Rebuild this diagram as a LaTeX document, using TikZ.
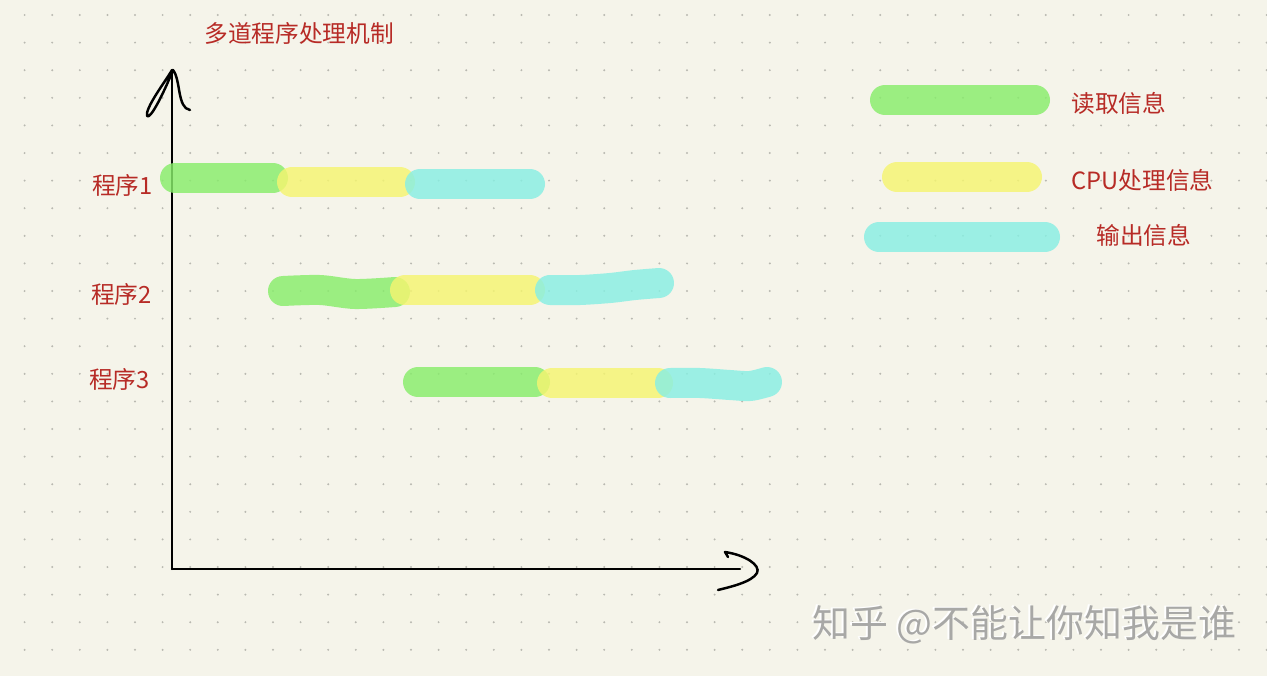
\documentclass[tikz,border=0pt]{standalone}
\usepackage{fontspec}
\newfontfamily\cjk{Noto Sans CJK SC}
\usepackage{xcolor}
\usetikzlibrary{calc}
\usetikzlibrary{positioning}

\definecolor{bgc}{RGB}{245,244,234}
\definecolor{dotc}{RGB}{185,185,177}
\definecolor{txtc}{RGB}{183,43,38}
\definecolor{rdc}{RGB}{136,237,107}
\definecolor{cuc}{RGB}{245,245,112}
\definecolor{opc}{RGB}{136,239,227}
\definecolor{wmc}{RGB}{168,168,166}

\begin{document}
\begin{tikzpicture}[
	x=0.02cm, y=-0.02cm,
	rd/.style = {line width=0.6cm, line cap=round, draw=rdc, opacity=0.82},
	cu/.style = {line width=0.6cm, line cap=round, draw=cuc, opacity=0.82},
	op/.style = {line width=0.6cm, line cap=round, draw=opc, opacity=0.82},
	lbl/.style = {text=txtc, inner sep=0, font=\cjk\fontsize{13.5}{15}\selectfont},
	wm/.style = {inner sep=0, font=\cjk\fontsize{21.6}{24}\selectfont},
	ax/.style = {line width=1.4pt, line cap=round, line join=round, black}
	]
	
	% === === Background === ===
	\fill[bgc] (0,0) rectangle (1267,676);
	\useasboundingbox (0,0) rectangle (1267,676);
	\foreach \i in {0,...,45}
		\foreach \j in {0,...,23}
			\fill[dotc] (24.6+27.6*\i, 15+27.6*\j) circle (0.022cm);
	
	
	% === === Nodes === ===
	\node[lbl, anchor=west]	(title)	at	(204, 33)	{多道程序处理机制};
	
	\node[lbl, anchor=east]	(p1)	at	(153, 185)	{程序1};
	\node[lbl, anchor=east]	(p2)	at	(152, 294)	{程序2};
	\node[lbl, anchor=east]	(p3)	at	(150, 379)	{程序3};
	
	\node[lbl, anchor=west]	(lrd)	at	(1071, 103)	{读取信息};
	\node[lbl, anchor=west]	(lcu)	at	(1071, 180)	{CPU处理信息};
	\node[lbl, anchor=west]	(lop)	at	(1096, 235)	{输出信息};
	
	\coordinate	(origin)	at	(172, 569);
	\coordinate	(ytip)		at	(172, 70);
	\coordinate	(xtip)		at	(740, 569);
	
	
	% === === Axes === ===
	\draw[ax]	(origin)	--	(ytip);
	\draw[ax]	(origin)	--	(xtip);
	\draw[ax]	(ytip) .. controls (165, 82) and (145, 108) .. (147, 116)
		.. controls (150, 120) and (163, 95) .. (173, 70)
		.. controls (181, 80) and (177, 108) .. (190, 110);
	\draw[ax]	(728, 557) -- (725, 552) .. controls (745, 555) and (761, 565) .. (757, 573)
		.. controls (752, 582) and (730, 587) .. (718, 590);
	
	
	% === === Bars === ===
	\draw[rd]	(175, 178)	--	(273, 178);
	\draw[cu]	(292, 182)	--	(400, 182);
	\draw[op]	(420, 184)	--	(530, 184);
	
	\draw[rd]	plot[smooth] coordinates {(283, 291) (320, 290) (355, 294) (395, 292)};
	\draw[cu]	(405, 290)	--	(530, 290);
	\draw[op]	plot[smooth] coordinates {(550, 290) (580, 290) (610, 288) (635, 285) (659, 283)};
	
	\draw[rd]	(418, 382)	--	(535, 382);
	\draw[cu]	(552, 383)	--	(658, 383);
	\draw[op]	plot[smooth] coordinates {(670, 383) (700, 383) (730, 385) (750, 386) (767, 382)};
	
	\draw[rd]	(885, 100)	--	(1035, 100);
	\draw[cu]	(897, 177)	--	(1027, 177);
	\draw[op]	(879, 237)	--	(1045, 237);
	
	
	% === === Watermark === ===
	\node[wm, text=white]	(wms)	at	(1022.5, 623.5)	{知乎 @不能让你知我是谁};
	\node[wm, text=wmc]		(wmt)	at	(1024, 625)		{知乎 @不能让你知我是谁};
	
\end{tikzpicture}
\end{document}
